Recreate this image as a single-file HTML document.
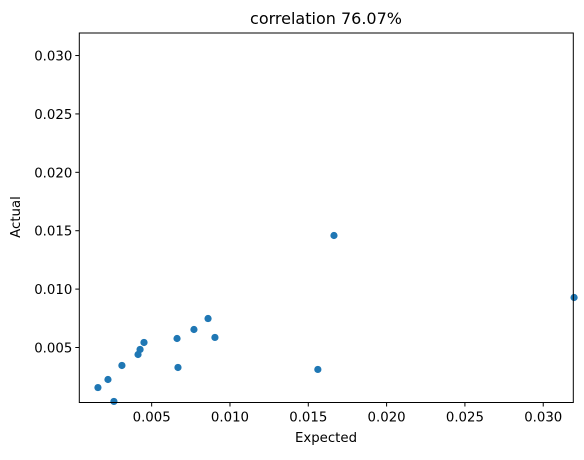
<!DOCTYPE html>
<html><head><meta charset="utf-8"><style>
body{margin:0;background:#fff;width:584px;height:455px;overflow:hidden}
svg text{font-family:"DejaVu Sans","Liberation Sans",sans-serif;fill:#000}
</style></head><body>
<svg id="c" width="584" height="455"></svg>
<script>
const expected=[0.00157,0.00221,0.00259,0.00310,0.00413,0.00426,0.00451,0.00662,0.00668,0.00770,0.00860,0.00904,0.01561,0.01664,0.03197];
const actual=[0.00157,0.00226,0.00038,0.00346,0.00440,0.00483,0.00543,0.00577,0.00329,0.00654,0.00748,0.00586,0.00312,0.01459,0.00928];
const xTicks=[0.005,0.010,0.015,0.020,0.025,0.030];
const yTicks=[0.005,0.010,0.015,0.020,0.025,0.030];
const X0=79.3,X1=573.3,Y0=402.5,Y1=33;
const xmin=0.00038,xmax=0.03192,ymin=0.00029,ymax=0.03193;
const sx=v=>X0+(v-xmin)/(xmax-xmin)*(X1-X0);
const sy=v=>Y0-(v-ymin)/(ymax-ymin)*(Y0-Y1);
const svg=document.getElementById('c');const NS='http://www.w3.org/2000/svg';
function mk(t,a,txt){const e=document.createElementNS(NS,t);for(const k in a)e.setAttribute(k,a[k]);if(txt!=null)e.textContent=txt;svg.appendChild(e);return e;}
expected.forEach((v,i)=>{const c=mk('circle',{cx:sx(v),cy:sy(actual[i]),r:3.6,fill:'#1f77b4'});

});
const fr=mk('rect',{x:X0,y:Y1,width:X1-X0,height:Y0-Y1,fill:'none',stroke:'#000','stroke-width':1});


xTicks.forEach(v=>{const x=sx(v);mk('line',{x1:x,x2:x,y1:Y0,y2:Y0+4,stroke:'#000'});
const t=mk('text',{x:x,y:Y0+19,'text-anchor':'middle','font-size':13.3},v.toFixed(3));

});
yTicks.forEach(v=>{const y=sy(v);mk('line',{x1:X0-4,x2:X0,y1:y,y2:y,stroke:'#000'});
const t=mk('text',{x:X0-7,y:y+5,'text-anchor':'end','font-size':13.3},v.toFixed(3));

});
let t=mk('text',{x:326,y:442,'text-anchor':'middle','font-size':13.3},'Expected');


t=mk('text',{x:20,y:217,'text-anchor':'middle','font-size':13.3,transform:'rotate(-90 20 217)'},'Actual');


t=mk('text',{x:326,y:24,'text-anchor':'middle','font-size':16},'correlation 76.07%');


</script>
</body></html>
